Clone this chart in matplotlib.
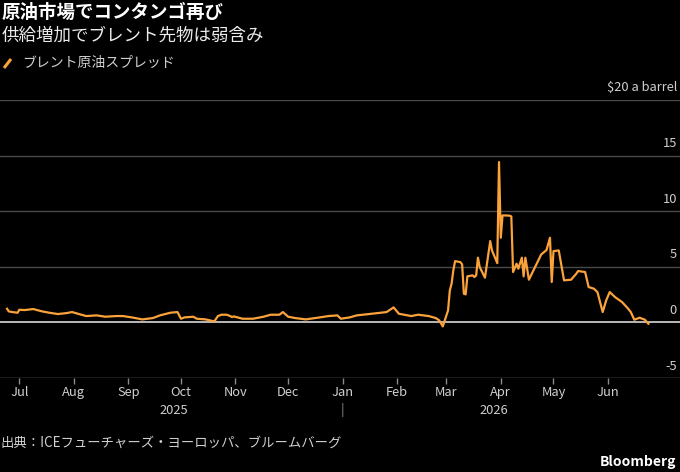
import matplotlib
matplotlib.use("Agg")
import matplotlib.pyplot as plt
import matplotlib.transforms as mtransforms
from matplotlib.lines import Line2D
import pandas as pd

plt.rcParams['font.family'] = ['Noto Sans CJK JP', 'DejaVu Sans']

# ---- data ----
dates = [
    "2025-06-24", "2025-06-25", "2025-06-27", "2025-06-30", "2025-07-01", "2025-07-04",
    "2025-07-09", "2025-07-11", "2025-07-14", "2025-07-18", "2025-07-23", "2025-07-28",
    "2025-07-31", "2025-08-04", "2025-08-08", "2025-08-14", "2025-08-19", "2025-08-25",
    "2025-08-29", "2025-09-03", "2025-09-09", "2025-09-15", "2025-09-19", "2025-09-25",
    "2025-09-29", "2025-10-01", "2025-10-03", "2025-10-08", "2025-10-10", "2025-10-15",
    "2025-10-20", "2025-10-22", "2025-10-24", "2025-10-27", "2025-10-29", "2025-10-30",
    "2025-10-31", "2025-11-05", "2025-11-11", "2025-11-17", "2025-11-21", "2025-11-26",
    "2025-11-28", "2025-12-01", "2025-12-05", "2025-12-11", "2025-12-19", "2025-12-24",
    "2025-12-29", "2025-12-31", "2026-01-05", "2026-01-09", "2026-01-16", "2026-01-26",
    "2026-01-30", "2026-02-02", "2026-02-09", "2026-02-13", "2026-02-19", "2026-02-23",
    "2026-02-25", "2026-02-27", "2026-03-02", "2026-03-03", "2026-03-04", "2026-03-05",
    "2026-03-06", "2026-03-09", "2026-03-10", "2026-03-11", "2026-03-12", "2026-03-13",
    "2026-03-16", "2026-03-17", "2026-03-18", "2026-03-19", "2026-03-20", "2026-03-23",
    "2026-03-24", "2026-03-26", "2026-03-27", "2026-03-30", "2026-03-31", "2026-04-01",
    "2026-04-02", "2026-04-03", "2026-04-06", "2026-04-07", "2026-04-08", "2026-04-10",
    "2026-04-11", "2026-04-13", "2026-04-14", "2026-04-15", "2026-04-17", "2026-04-21",
    "2026-04-24", "2026-04-27", "2026-04-29", "2026-04-30", "2026-05-01", "2026-05-04",
    "2026-05-07", "2026-05-11", "2026-05-14", "2026-05-15", "2026-05-19", "2026-05-21",
    "2026-05-24", "2026-05-26", "2026-05-29", "2026-05-31", "2026-06-02", "2026-06-05",
    "2026-06-09", "2026-06-12", "2026-06-14", "2026-06-16", "2026-06-19", "2026-06-22",
    "2026-06-24",
]
spread = [
    1.23, 0.99, 0.93, 0.87, 1.14, 1.11,
    1.20, 1.11, 0.99, 0.87, 0.75, 0.84,
    0.93, 0.75, 0.57, 0.63, 0.51, 0.57,
    0.57, 0.45, 0.27, 0.39, 0.63, 0.87,
    0.93, 0.33, 0.45, 0.51, 0.33, 0.27,
    0.09, 0.57, 0.69, 0.69, 0.57, 0.48,
    0.54, 0.33, 0.33, 0.51, 0.69, 0.69,
    0.93, 0.51, 0.39, 0.27, 0.45, 0.57,
    0.63, 0.33, 0.45, 0.63, 0.75, 0.93,
    1.35, 0.78, 0.57, 0.69, 0.57, 0.39,
    0.18, -0.36, 1.08, 2.88, 3.48, 4.68,
    5.51, 5.42, 5.22, 2.58, 2.52, 4.14,
    4.23, 4.08, 4.23, 5.82, 4.98, 4.02,
    5.13, 7.31, 6.47, 5.33, 14.42, 7.61,
    9.62, 9.62, 9.60, 9.53, 4.53, 5.28,
    4.83, 5.82, 4.14, 5.82, 3.84, 5.13,
    6.11, 6.50, 7.61, 3.63, 6.41, 6.47,
    3.78, 3.84, 4.38, 4.62, 4.53, 3.18,
    3.03, 2.73, 0.93, 1.98, 2.73, 2.28,
    1.83, 1.32, 0.93, 0.24, 0.42, 0.24,
    -0.12,
]
y_ticks = [-5, 0, 5, 10, 15, 20]
y_tick_labels = ["-5", "0", "5", "10", "15", "$20 a barrel"]
month_ticks = ["2025-07-01", "2025-08-01", "2025-09-01", "2025-10-01", "2025-11-01",
               "2025-12-01", "2026-01-01", "2026-02-01", "2026-03-01", "2026-04-01",
               "2026-05-01", "2026-06-01"]
month_labels = ["Jul", "Aug", "Sep", "Oct", "Nov", "Dec", "Jan", "Feb", "Mar", "Apr", "May", "Jun"]
year_labels = ["2025", "2026"]
year_label_pos = ["2025-09-27", "2026-03-28"]

title = "原油市場でコンタンゴ再び"
subtitle = "供給増加でブレント先物は弱含み"
series_name = "ブレント原油スプレッド"
source = "出典：ICEフューチャーズ・ヨーロッパ、ブルームバーグ"

# ---- figure ----
W, H = 680, 472
fig = plt.figure(figsize=(W / 100, H / 100), dpi=100, facecolor="black")

def fy(py):
    return 1 - py / H

ax_top, ax_bot = 100, 378
ax = fig.add_axes([0, fy(ax_bot), 1, (ax_bot - ax_top) / H], facecolor="black")

x = pd.to_datetime(dates)
orange = "#FBA23A"
ax.plot(x, spread, color=orange, lw=1.6, solid_joinstyle="round", zorder=3)

ax.set_xlim(pd.Timestamp("2025-06-20"), pd.Timestamp("2026-07-12"))
ax.set_ylim(-5, 20)

for s in ax.spines.values():
    s.set_visible(False)
ax.axhline(-5, color="#8a8a8a", lw=1.0, zorder=1)
for t in y_ticks[2:]:
    ax.axhline(t, color="#4a4a4a", lw=1.0, zorder=1)
ax.axhline(0, color="#d8d8d8", lw=1.2, zorder=2)

ax.set_yticks([])
trans_y = mtransforms.blended_transform_factory(ax.transAxes, ax.transData)
trans_y = trans_y + mtransforms.ScaledTranslation(0, 12 / 100, fig.dpi_scale_trans)
for t, lab in zip(y_ticks, y_tick_labels):
    ax.text(677 / W, t, lab, transform=trans_y, ha="right", va="center",
            color="#cfcfcf", fontsize=9.3)

ax.set_xticks(pd.to_datetime(month_ticks))
ax.set_xticklabels(month_labels)
ax.tick_params(axis="x", colors="#8a8a8a", length=4, width=1, pad=2,
               labelcolor="#cfcfcf", labelsize=9.3)

trans_x = mtransforms.blended_transform_factory(ax.transData, ax.transAxes)
yr_y = (ax_bot - 410) / (ax_bot - ax_top)
for lab, pos in zip(year_labels, year_label_pos):
    ax.text(pd.Timestamp(pos), yr_y, lab, transform=trans_x, ha="center", va="center",
            color="#cfcfcf", fontsize=9.3)
ax.text(pd.Timestamp("2026-01-01"), yr_y, "|", transform=trans_x, ha="center", va="center",
        color="#8a8a8a", fontsize=9.3)

# ---- texts ----
fig.text(2 / W, fy(12), title, color="white", fontsize=13.3, fontweight="bold",
         ha="left", va="center")
fig.text(2 / W, fy(36), subtitle, color="#ececec", fontsize=12.6, ha="left", va="center")
fig.add_artist(Line2D([4 / W, 11 / W], [fy(68), fy(59)], color=orange, lw=2.2,
                      solid_capstyle="butt", transform=fig.transFigure))
fig.text(22 / W, fy(63), series_name, color="#d0d0d0", fontsize=10, ha="left", va="center")
fig.text(1 / W, fy(443), source, color="#d0d0d0", fontsize=9.6, ha="left", va="center")
fig.text(676 / W, fy(462), "Bloomberg", color="white", fontsize=10, fontweight="bold",
         ha="right", va="center")

fig.savefig("out.png", dpi=100, facecolor="black")
